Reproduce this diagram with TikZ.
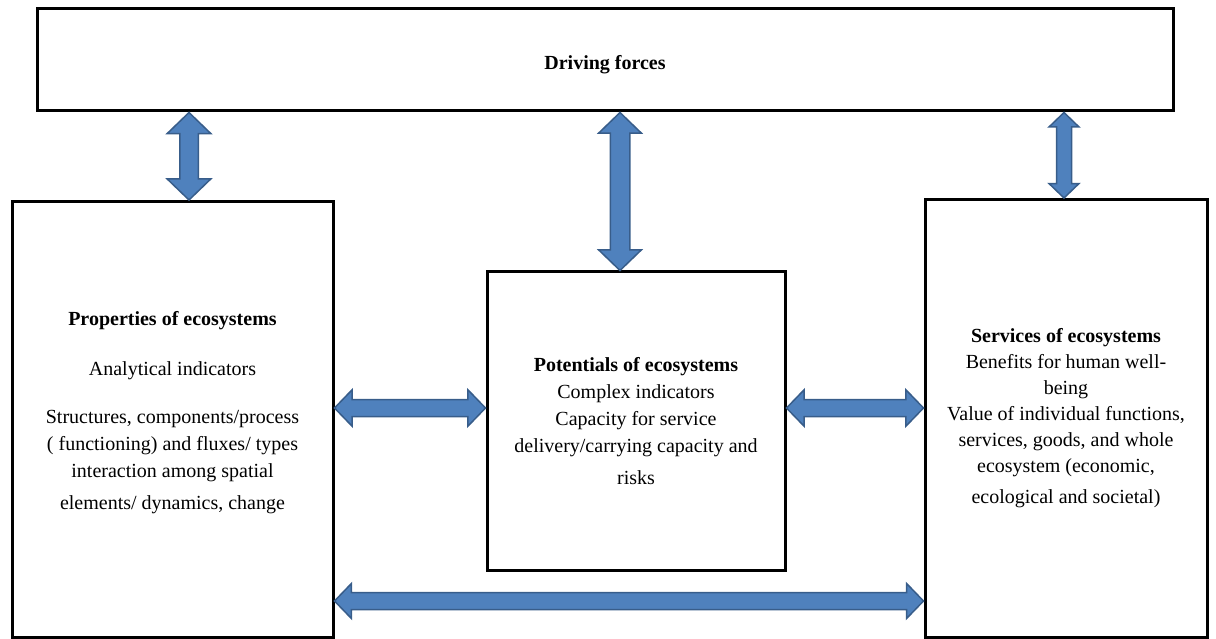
\documentclass[tikz,border=0pt]{standalone}
\usepackage{fontspec}
\setmainfont{Liberation Serif}
\usepackage{tikz}
\usetikzlibrary{positioning,calc,shapes.arrows}
\definecolor{arrowfill}{RGB}{79,129,189}
\definecolor{arrowedge}{RGB}{56,93,138}
\tikzset{
	ecobox/.style={draw=black, line width=3pt, align=center, inner sep=0pt, font=\fontsize{20}{27}\selectfont},
	bigarrow/.style={double arrow, draw=arrowedge, fill=arrowfill, line width=1.5pt, inner sep=0pt, text depth=0pt, double arrow tip angle=92},
}
% block arrow between two points: from, to, shaft width, head extend
\newcommand{\linkarrow}[4]{%
	\path let \p1=(#1), \p2=(#2), \n1={veclen(\x2-\x1,\y2-\y1)} in
		(#1) -- node[bigarrow, sloped, minimum height=\n1, text height=#3, double arrow head extend=#4] {} (#2);}

\begin{document}
\begin{tikzpicture}[x=1pt, y=-1pt]
				\useasboundingbox (0,0) rectangle (1216,639);
				\node[ecobox, minimum width=1136, minimum height=102, text height=24pt] (drive) at (605,60) {\textbf{Driving forces}};
				\node[ecobox, minimum width=321, minimum height=436, text depth=19pt] (props) at (172.5,419.5)
					{\textbf{Properties of ecosystems}\\[23pt] Analytical indicators\\[21pt]
					Structures, components/process\\( functioning) and fluxes/ types\\interaction among spatial\\[5pt] elements/ dynamics, change};
				\node[ecobox, minimum width=298, minimum height=298] (pot) at (636,421)
					{\textbf{Potentials of ecosystems}\\Complex indicators\\Capacity for service\\delivery/carrying capacity and\\[5pt] risks};
				\node[ecobox, minimum width=282, minimum height=438, font=\fontsize{20}{26}\selectfont] (serv) at (1066,418.5)
					{\textbf{Services of ecosystems}\\Benefits for human well-\\being\\Value of individual functions,\\services, goods, and whole\\ecosystem (economic,\\[5pt] ecological and societal)};
				\coordinate (va) at (189,0);
				\coordinate (vb) at (620,0);
				\coordinate (vc) at (1064,0);
				\coordinate (ha) at (0,408);
				\coordinate (hb) at (0,601);
				\linkarrow{drive.south -| va}{props.north -| va}{17pt}{12.5pt}
				\linkarrow{drive.south -| vb}{pot.north -| vb}{18pt}{11.5pt}
				\linkarrow{drive.south -| vc}{serv.north -| vc}{13.5pt}{7.5pt}
				\linkarrow{props.east |- ha}{pot.west |- ha}{15.5pt}{9.75pt}
				\linkarrow{pot.east |- ha}{serv.west |- ha}{15.5pt}{9.75pt}
				\linkarrow{props.east |- hb}{serv.west |- hb}{15.5pt}{9pt}
\end{tikzpicture}
\end{document}
